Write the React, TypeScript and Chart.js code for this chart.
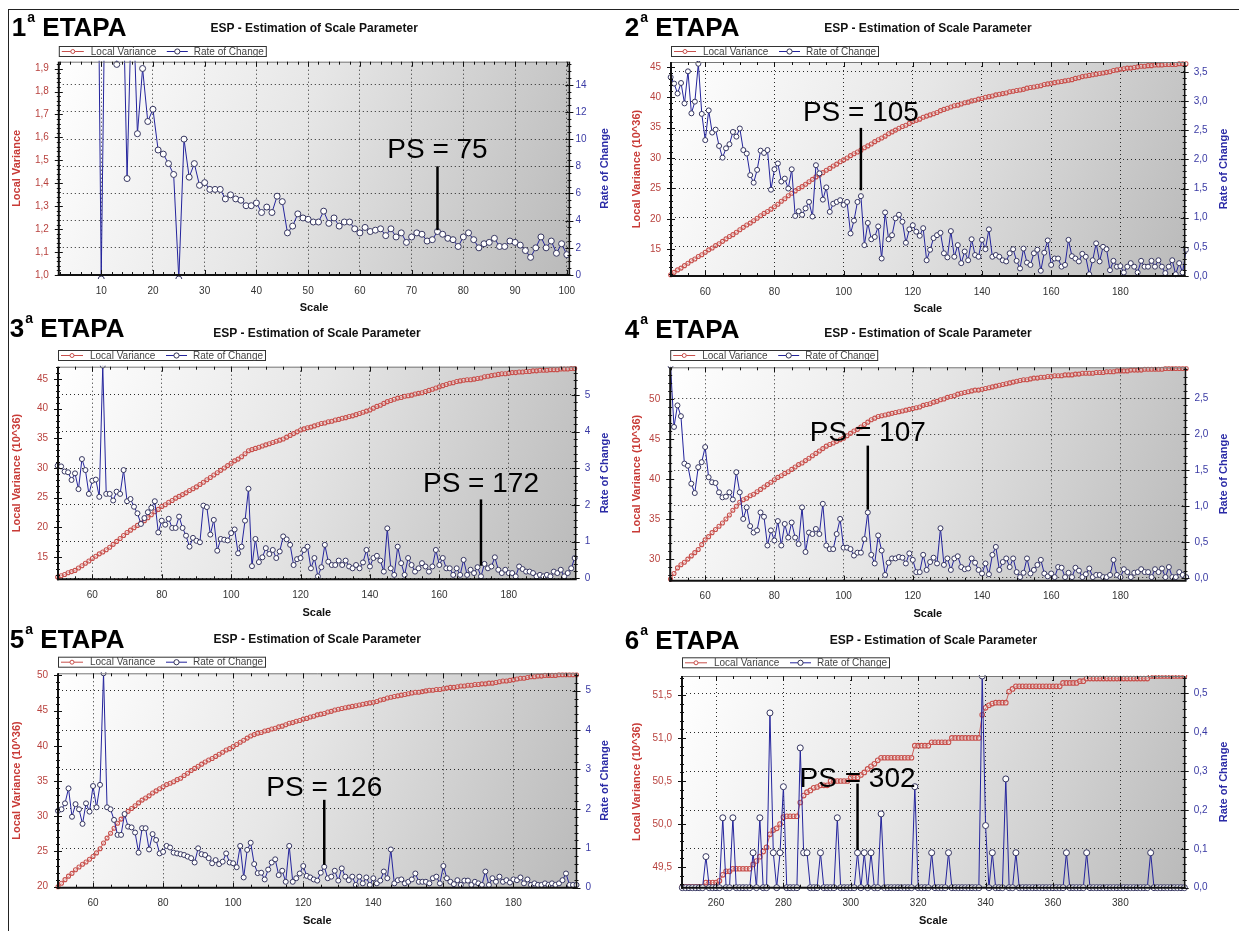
import React, { useEffect, useRef } from 'react';
import { Chart, registerables } from 'chart.js';

Chart.register(...registerables);

const FONT = '"Liberation Sans", Arial, Helvetica, sans-serif';

// ---------------- categories (scale steps) ----------------
const scaleSteps = (from: number, to: number) => {
  const out: number[] = [];
  for (let v = from; v <= to; v++) out.push(v);
  return out;
};

// ---------------- 1ª ETAPA ----------------
const p1Scale = scaleSteps(9, 100);
const p1LocalVariance: number[] = [];
const p1RateOfChange = [
  40, -0.3, 30, 25, 15.5, 25, 7.1, 22, 10.4, 15.2,
  11.3, 12.2, 9.2, 8.9, 8.2, 7.4, -0.3, 10.0, 7.2, 8.2,
  6.6, 6.8, 6.3, 6.3, 6.3, 5.6, 5.9, 5.6, 5.5, 5.1,
  5.1, 5.3, 4.6, 5.0, 4.6, 5.8, 5.4, 3.1, 3.6, 4.5,
  4.2, 4.1, 3.9, 3.9, 4.7, 3.8, 4.2, 3.6, 3.9, 3.9,
  3.4, 3.1, 3.5, 3.2, 3.3, 3.4, 2.9, 3.4, 2.8, 3.1,
  2.4, 2.8, 3.1, 3.0, 2.5, 2.6, 3.2, 3.0, 2.7, 2.6,
  2.1, 2.8, 3.1, 2.6, 2.0, 2.3, 2.4, 2.7, 2.1, 2.1,
  2.5, 2.4, 2.2, 1.8, 1.3, 2.0, 2.8, 2.0, 2.5, 1.6,
  2.3, 1.5,
];
const p1XTicks = [10, 20, 30, 40, 50, 60, 70, 80, 90, 100];
const p1LvTicks = [1.0, 1.1, 1.2, 1.3, 1.4, 1.5, 1.6, 1.7, 1.8, 1.9];
const p1RocTicks = [0, 2, 4, 6, 8, 10, 12, 14];

// ---------------- 2ª ETAPA ----------------
const p2Scale = scaleSteps(50, 199);
const p2LocalVariance = [
  10.8, 11.2, 11.6, 11.9, 12.3, 12.7, 13.1, 13.4, 13.8, 14.1,
  14.5, 14.9, 15.2, 15.6, 15.9, 16.3, 16.7, 17.1, 17.4, 17.8,
  18.2, 18.6, 19.0, 19.3, 19.7, 20.1, 20.5, 20.9, 21.2, 21.6,
  22.0, 22.4, 22.9, 23.3, 23.8, 24.2, 24.6, 25.0, 25.3, 25.7,
  26.1, 26.5, 26.9, 27.2, 27.6, 28.0, 28.3, 28.7, 29.0, 29.4,
  29.7, 30.0, 30.4, 30.7, 31.0, 31.3, 31.7, 32.0, 32.3, 32.7,
  33.0, 33.3, 33.6, 34.0, 34.3, 34.6, 34.9, 35.2, 35.4, 35.7,
  36.0, 36.2, 36.4, 36.7, 36.9, 37.1, 37.3, 37.5, 37.8, 38.0,
  38.2, 38.4, 38.6, 38.7, 38.9, 39.1, 39.2, 39.4, 39.5, 39.7,
  39.8, 40.0, 40.1, 40.2, 40.4, 40.5, 40.6, 40.7, 40.9, 41.0,
  41.1, 41.2, 41.3, 41.5, 41.6, 41.7, 41.8, 41.9, 42.1, 42.2,
  42.3, 42.4, 42.5, 42.6, 42.7, 42.8, 42.9, 43.1, 43.2, 43.4,
  43.5, 43.6, 43.7, 43.8, 43.9, 44.0, 44.1, 44.2, 44.4, 44.5,
  44.6, 44.7, 44.8, 44.8, 44.9, 45.0, 45.1, 45.1, 45.2, 45.2,
  45.3, 45.3, 45.3, 45.4, 45.4, 45.4, 45.4, 45.5, 45.5, 45.5,
];
const p2RateOfChange = [
  3.41, 3.30, 3.13, 3.31, 2.96, 3.51, 2.79, 2.99, 3.64, 2.78,
  2.33, 2.84, 2.46, 2.51, 2.23, 2.03, 2.19, 2.26, 2.47, 2.39,
  2.53, 2.16, 2.10, 1.73, 1.60, 1.82, 2.15, 2.11, 2.16, 1.48,
  1.83, 1.93, 1.62, 1.67, 1.50, 1.83, 1.03, 1.11, 1.05, 1.16,
  1.27, 1.02, 1.90, 1.76, 1.31, 1.52, 1.10, 1.24, 1.27, 1.30,
  1.22, 1.27, 0.73, 0.95, 1.27, 1.37, 0.53, 0.91, 0.63, 0.67,
  0.85, 0.30, 1.09, 0.63, 0.70, 0.99, 1.05, 0.93, 0.57, 0.80,
  0.87, 0.76, 0.69, 0.82, 0.27, 0.45, 0.65, 0.70, 0.74, 0.39,
  0.32, 0.77, 0.33, 0.53, 0.22, 0.42, 0.27, 0.63, 0.36, 0.33,
  0.62, 0.46, 0.80, 0.33, 0.36, 0.33, 0.27, 0.25, 0.39, 0.46,
  0.26, 0.13, 0.47, 0.23, 0.19, 0.39, 0.45, 0.09, 0.40, 0.61,
  0.19, 0.30, 0.30, 0.16, 0.19, 0.62, 0.34, 0.30, 0.25, 0.38,
  0.33, 0.03, 0.27, 0.56, 0.25, 0.50, 0.46, 0.10, 0.26, 0.16,
  0.17, 0.06, 0.16, 0.22, 0.16, 0.06, 0.26, 0.16, 0.16, 0.26,
  0.16, 0.27, 0.16, 0.05, 0.16, 0.27, 0.03, 0.22, 0.06, 0.45,
];
const p2XTicks = [60, 80, 100, 120, 140, 160, 180];
const p2LvTicks = [15, 20, 25, 30, 35, 40, 45];
const p2RocTicks = [0, 0.5, 1.0, 1.5, 2.0, 2.5, 3.0, 3.5];

// ---------------- 3ª ETAPA ----------------
const p3Scale = scaleSteps(50, 199);
const p3LocalVariance = [
  11.6, 11.8, 12.0, 12.3, 12.5, 12.7, 13.1, 13.5, 13.9, 14.3,
  14.7, 15.1, 15.5, 15.8, 16.2, 16.6, 17.1, 17.6, 18.1, 18.6,
  19.1, 19.5, 19.9, 20.3, 20.7, 21.1, 21.6, 22.1, 22.6, 23.0,
  23.5, 23.8, 24.2, 24.5, 24.9, 25.2, 25.5, 25.8, 26.2, 26.5,
  26.8, 27.2, 27.6, 28.0, 28.4, 28.8, 29.2, 29.6, 30.0, 30.4,
  30.8, 31.2, 31.5, 31.9, 32.4, 32.9, 33.1, 33.3, 33.5, 33.7,
  33.9, 34.1, 34.3, 34.5, 34.7, 34.9, 35.2, 35.5, 35.8, 36.1,
  36.4, 36.6, 36.8, 36.9, 37.1, 37.3, 37.5, 37.6, 37.8, 37.9,
  38.1, 38.2, 38.4, 38.5, 38.7, 38.8, 39.0, 39.2, 39.4, 39.6,
  39.8, 40.1, 40.4, 40.6, 40.9, 41.2, 41.4, 41.6, 41.8, 41.9,
  42.1, 42.2, 42.3, 42.5, 42.6, 42.7, 42.9, 43.1, 43.3, 43.5,
  43.7, 43.9, 44.1, 44.3, 44.4, 44.6, 44.7, 44.8, 44.9, 44.9,
  45.0, 45.1, 45.2, 45.4, 45.5, 45.6, 45.7, 45.8, 45.9, 45.9,
  46.0, 46.1, 46.1, 46.2, 46.2, 46.3, 46.3, 46.4, 46.4, 46.5,
  46.5, 46.5, 46.6, 46.6, 46.6, 46.7, 46.7, 46.7, 46.8, 46.8,
];
const p3RateOfChange = [
  3.07, 3.05, 2.91, 2.89, 2.68, 2.86, 2.43, 3.25, 2.95, 2.30,
  2.66, 2.69, 2.22, 5.80, 2.30, 2.30, 2.12, 2.36, 2.30, 2.95,
  2.10, 2.16, 1.95, 1.77, 1.48, 1.64, 1.80, 1.92, 2.10, 1.25,
  1.57, 1.46, 1.62, 1.37, 1.37, 1.68, 1.37, 1.16, 0.86, 1.10,
  1.02, 0.98, 1.98, 1.94, 1.19, 1.59, 0.75, 1.07, 1.05, 1.03,
  1.23, 1.33, 0.68, 0.86, 1.57, 2.44, 0.33, 1.07, 0.44, 0.57,
  0.82, 0.66, 0.77, 0.55, 0.73, 1.14, 1.06, 0.91, 0.36, 0.52,
  0.55, 0.77, 0.86, 0.27, 0.55, 0.05, 0.30, 0.91, 0.45, 0.36,
  0.36, 0.48, 0.36, 0.48, 0.32, 0.27, 0.36, 0.27, 0.43, 0.77,
  0.32, 0.55, 0.61, 0.48, 0.18, 1.36, 0.27, 0.09, 0.86, 0.41,
  0.09, 0.55, 0.36, 0.18, 0.27, 0.41, 0.32, 0.18, 0.32, 0.77,
  0.36, 0.55, 0.27, 0.27, 0.09, 0.27, 0.09, 0.50, 0.09, 0.23,
  0.14, 0.30, 0.05, 0.39, 0.27, 0.32, 0.57, 0.23, 0.14, 0.23,
  0.14, 0.14, 0.05, 0.32, 0.25, 0.18, 0.18, 0.14, 0.05, 0.09,
  0.05, 0.09, 0.05, 0.18, 0.14, 0.23, 0.05, 0.14, 0.27, 0.55,
];
const p3XTicks = [60, 80, 100, 120, 140, 160, 180];
const p3LvTicks = [15, 20, 25, 30, 35, 40, 45];
const p3RocTicks = [0, 1, 2, 3, 4, 5];

// ---------------- 4ª ETAPA ----------------
const p4Scale = scaleSteps(50, 199);
const p4LocalVariance = [
  27.5, 28.2, 28.9, 29.3, 29.6, 30.0, 30.4, 30.8, 31.2, 31.8,
  32.4, 32.8, 33.3, 33.7, 34.1, 34.5, 35.0, 35.5, 36.1, 36.6,
  37.1, 37.4, 37.6, 37.9, 38.1, 38.4, 38.7, 39.0, 39.3, 39.6,
  39.9, 40.2, 40.4, 40.7, 40.9, 41.2, 41.5, 41.8, 42.0, 42.3,
  42.6, 42.9, 43.2, 43.5, 43.8, 44.1, 44.3, 44.5, 44.7, 44.9,
  45.1, 45.4, 45.7, 46.0, 46.2, 46.5, 46.8, 47.1, 47.4, 47.6,
  47.8, 47.9, 48.0, 48.1, 48.2, 48.3, 48.4, 48.5, 48.6, 48.7,
  48.8, 48.9, 49.0, 49.2, 49.3, 49.4, 49.6, 49.7, 49.9, 50.0,
  50.2, 50.3, 50.4, 50.6, 50.7, 50.8, 50.9, 51.0, 51.1, 51.1,
  51.2, 51.3, 51.4, 51.5, 51.6, 51.7, 51.8, 51.9, 52.0, 52.1,
  52.2, 52.3, 52.4, 52.4, 52.5, 52.6, 52.6, 52.7, 52.7, 52.8,
  52.8, 52.9, 52.9, 52.9, 53.0, 53.0, 53.0, 53.1, 53.1, 53.2,
  53.2, 53.2, 53.2, 53.3, 53.3, 53.3, 53.4, 53.4, 53.4, 53.5,
  53.5, 53.5, 53.5, 53.6, 53.6, 53.6, 53.6, 53.7, 53.7, 53.7,
  53.7, 53.7, 53.7, 53.8, 53.8, 53.8, 53.8, 53.8, 53.8, 53.8,
];
const p4RateOfChange = [
  2.95, 2.10, 2.40, 2.25, 1.59, 1.56, 1.31, 1.18, 1.54, 1.61,
  1.82, 1.40, 1.33, 1.32, 1.19, 1.12, 1.13, 1.19, 1.09, 1.47,
  1.19, 0.82, 0.98, 0.72, 0.63, 0.66, 0.91, 0.85, 0.45, 0.66,
  0.52, 0.79, 0.45, 0.75, 0.56, 0.77, 0.56, 0.47, 0.98, 0.36,
  0.63, 0.61, 0.68, 0.61, 1.03, 0.45, 0.40, 0.40, 0.61, 0.82,
  0.42, 0.42, 0.40, 0.31, 0.35, 0.35, 0.54, 0.91, 0.32, 0.20,
  0.59, 0.38, 0.04, 0.21, 0.27, 0.27, 0.29, 0.28, 0.20, 0.34,
  0.25, 0.08, 0.08, 0.32, 0.11, 0.22, 0.28, 0.20, 0.69, 0.18,
  0.27, 0.11, 0.27, 0.30, 0.15, 0.12, 0.13, 0.27, 0.21, 0.11,
  0.06, 0.20, 0.05, 0.32, 0.43, 0.11, 0.22, 0.27, 0.15, 0.27,
  0.08, 0.01, 0.07, 0.27, 0.06, 0.11, 0.18, 0.25, 0.06, 0.02,
  0.06, 0.01, 0.15, 0.14, 0.01, 0.07, 0.01, 0.14, 0.10, 0.01,
  0.05, 0.13, 0.01, 0.04, 0.04, 0.01, 0.01, 0.04, 0.25, 0.04,
  0.01, 0.12, 0.08, 0.01, 0.07, 0.08, 0.12, 0.08, 0.08, 0.01,
  0.12, 0.08, 0.13, 0.01, 0.15, 0.01, 0.01, 0.08, 0.04, 0.01,
];
const p4XTicks = [60, 80, 100, 120, 140, 160, 180];
const p4LvTicks = [30, 35, 40, 45, 50];
const p4RocTicks = [0, 0.5, 1.0, 1.5, 2.0, 2.5];

// ---------------- 5ª ETAPA ----------------
const p5Scale = scaleSteps(50, 198);
const p5LocalVariance = [
  20.0, 20.5, 21.0, 21.5, 21.9, 22.4, 22.8, 23.2, 23.5, 23.9,
  24.3, 24.8, 25.4, 26.2, 26.9, 27.6, 28.3, 29.0, 29.6, 30.2,
  30.7, 31.1, 31.5, 31.9, 32.3, 32.6, 32.9, 33.3, 33.6, 33.9,
  34.2, 34.5, 34.7, 34.9, 35.2, 35.4, 35.8, 36.1, 36.5, 36.8,
  37.1, 37.4, 37.7, 38.0, 38.2, 38.5, 38.8, 39.1, 39.4, 39.6,
  39.9, 40.2, 40.5, 40.8, 41.1, 41.4, 41.6, 41.8, 41.9, 42.1,
  42.2, 42.4, 42.5, 42.7, 42.8, 43.0, 43.2, 43.3, 43.5, 43.6,
  43.8, 43.9, 44.1, 44.2, 44.4, 44.5, 44.6, 44.8, 44.9, 45.1,
  45.2, 45.3, 45.4, 45.5, 45.6, 45.7, 45.8, 45.9, 46.0, 46.1,
  46.2, 46.3, 46.5, 46.6, 46.8, 46.9, 47.0, 47.1, 47.2, 47.3,
  47.4, 47.5, 47.6, 47.6, 47.7, 47.8, 47.9, 47.9, 48.0, 48.0,
  48.1, 48.2, 48.3, 48.3, 48.4, 48.5, 48.5, 48.6, 48.6, 48.7,
  48.7, 48.8, 48.8, 48.9, 48.9, 49.0, 49.1, 49.2, 49.2, 49.3,
  49.4, 49.5, 49.6, 49.6, 49.7, 49.8, 49.8, 49.9, 49.9, 50.0,
  50.0, 50.0, 50.0, 50.1, 50.1, 50.1, 50.1, 50.1, 50.1,
];
const p5RateOfChange = [
  1.95, 1.99, 2.14, 2.52, 1.80, 2.12, 1.99, 1.62, 2.14, 1.93,
  2.58, 2.04, 2.61, 5.44, 2.04, 1.99, 1.72, 1.34, 1.34, 1.87,
  1.55, 1.53, 1.40, 0.89, 1.51, 1.51, 0.97, 1.36, 1.21, 0.87,
  0.91, 1.06, 1.02, 0.89, 0.87, 0.85, 0.83, 0.79, 0.75, 0.64,
  1.00, 0.85, 0.83, 0.75, 0.62, 0.70, 0.60, 0.66, 0.87, 0.64,
  0.62, 0.52, 1.06, 0.26, 0.96, 1.14, 0.60, 0.37, 0.38, 0.21,
  0.46, 0.64, 0.72, 0.32, 0.43, 0.15, 1.06, 0.15, 0.24, 0.36,
  0.55, 0.30, 0.26, 0.21, 0.18, 0.38, 0.53, 0.24, 0.28, 0.43,
  0.18, 0.49, 0.28, 0.19, 0.28, 0.07, 0.28, 0.11, 0.26, 0.07,
  0.24, 0.11, 0.18, 0.41, 0.24, 0.97, 0.11, 0.19, 0.21, 0.11,
  0.15, 0.21, 0.36, 0.15, 0.15, 0.15, 0.11, 0.24, 0.28, 0.11,
  0.55, 0.24, 0.15, 0.09, 0.19, 0.07, 0.18, 0.18, 0.07, 0.15,
  0.11, 0.07, 0.41, 0.07, 0.24, 0.15, 0.28, 0.15, 0.19, 0.13,
  0.21, 0.19, 0.26, 0.11, 0.21, 0.07, 0.11, 0.07, 0.07, 0.11,
  0.07, 0.11, 0.07, 0.11, 0.19, 0.36, 0.07, 0.07, 0.07,
];
const p5XTicks = [60, 80, 100, 120, 140, 160, 180];
const p5LvTicks = [20, 25, 30, 35, 40, 45, 50];
const p5RocTicks = [0, 1, 2, 3, 4, 5];

// ---------------- 6ª ETAPA ----------------
const p6Scale = scaleSteps(250, 399);
const p6LocalVariance = [
  49.27, 49.27, 49.27, 49.27, 49.27, 49.27, 49.27, 49.32, 49.32, 49.32,
  49.32, 49.34, 49.41, 49.45, 49.45, 49.48, 49.48, 49.48, 49.48, 49.48,
  49.48, 49.53, 49.57, 49.62, 49.68, 49.73, 49.88, 49.93, 49.95, 50.0,
  50.08, 50.09, 50.09, 50.09, 50.09, 50.25, 50.33, 50.37, 50.39, 50.42,
  50.43, 50.45, 50.45, 50.45, 50.5, 50.5, 50.5, 50.5, 50.5, 50.5,
  50.54, 50.54, 50.54, 50.57, 50.6, 50.64, 50.67, 50.7, 50.74, 50.77,
  50.77, 50.77, 50.77, 50.77, 50.77, 50.77, 50.77, 50.77, 50.77, 50.91,
  50.91, 50.91, 50.91, 50.91, 50.95, 50.95, 50.95, 50.95, 50.95, 50.95,
  51.0, 51.0, 51.0, 51.0, 51.0, 51.0, 51.0, 51.0, 51.0, 51.27,
  51.35, 51.38, 51.4, 51.41, 51.41, 51.41, 51.41, 51.54, 51.57, 51.6,
  51.6, 51.6, 51.6, 51.6, 51.6, 51.6, 51.6, 51.6, 51.6, 51.6,
  51.6, 51.6, 51.6, 51.64, 51.64, 51.64, 51.64, 51.64, 51.66, 51.66,
  51.69, 51.69, 51.69, 51.69, 51.69, 51.69, 51.69, 51.69, 51.69, 51.69,
  51.69, 51.69, 51.69, 51.69, 51.69, 51.69, 51.69, 51.69, 51.69, 51.72,
  51.72, 51.72, 51.72, 51.72, 51.72, 51.72, 51.72, 51.72, 51.72, 51.72,
];
const p6RateOfChange = [
  0, 0, 0, 0, 0, 0, 0, 0.08, 0, 0,
  0, 0, 0.18, 0, 0, 0.18, 0, 0, 0, 0,
  0, 0.09, 0, 0.18, 0, 0, 0.45, 0.09, 0, 0.09,
  0.26, 0, 0, 0, 0, 0.36, 0.09, 0.09, 0, 0,
  0, 0.09, 0, 0, 0, 0, 0.18, 0, 0, 0,
  0, 0, 0.09, 0, 0.09, 0, 0.09, 0, 0, 0.19,
  0, 0, 0, 0, 0, 0, 0, 0, 0, 0.26,
  0, 0, 0, 0, 0.09, 0, 0, 0, 0, 0.09,
  0, 0, 0, 0, 0, 0, 0, 0, 0, 0.545,
  0.16, 0, 0.09, 0, 0, 0, 0.28, 0, 0, 0.09,
  0, 0, 0, 0, 0, 0, 0, 0, 0, 0,
  0, 0, 0, 0, 0.09, 0, 0, 0, 0, 0,
  0.09, 0, 0, 0, 0, 0, 0, 0, 0, 0,
  0, 0, 0, 0, 0, 0, 0, 0, 0, 0.09,
  0, 0, 0, 0, 0, 0, 0, 0, 0, 0,
];
const p6XTicks = [260, 280, 300, 320, 340, 360, 380];
const p6LvTicks = [49.5, 50.0, 50.5, 51.0, 51.5];
const p6RocTicks = [0, 0.1, 0.2, 0.3, 0.4, 0.5];

// ---------------- text ----------------
const CHART_TITLE = 'ESP - Estimation of Scale Parameter';
const LV_LABEL = 'Local Variance';
const ROC_LABEL = 'Rate of Change';
const X_TITLE = 'Scale';

type PanelDef = {
  stage: string;
  box: { left: number; top: number; width: number; height: number };
  plot: { l: number; t: number; r: number; b: number };
  titleY: number;
  legendY: number;
  stageX: number;
  stageBaseline: number;
  scale: number[];
  lv: number[];
  roc: number[];
  xRange: [number, number];
  xTicks: number[];
  xMinor: number;
  yRange: [number, number];
  yTicks: number[];
  yMinor: number;
  yDec: number;
  yTitle: string;
  y1Range: [number, number];
  y1Ticks: number[];
  y1Minor: number;
  y1Dec: number;
  y1Pad: number;
  ps: number;
  psLine: [number, number];
  psText: number;
  rocRadius: number;
  lvRadius: number;
};

const panels: PanelDef[] = [
  {
    stage: '1', box: { left: 0, top: 0, width: 620, height: 320 },
    plot: { l: 58.8, t: 61.7, r: 569.4, b: 275 }, titleY: 28.3, legendY: 46,
    stageX: 11.8, stageBaseline: 36,
    scale: p1Scale, lv: p1LocalVariance, roc: p1RateOfChange,
    xRange: [1.8, 100.5], xTicks: p1XTicks, xMinor: 2,
    yRange: [1.0, 1.93], yTicks: p1LvTicks, yMinor: 0.02, yDec: 1, yTitle: LV_LABEL,
    y1Range: [0, 15.7], y1Ticks: p1RocTicks, y1Minor: 0.5, y1Dec: 0, y1Pad: 6,
    ps: 75, psLine: [3.3, 8.0], psText: 8.6, rocRadius: 3, lvRadius: 2,
  },
  {
    stage: '2', box: { left: 620, top: 0, width: 619, height: 320 },
    plot: { l: 51, t: 62, r: 564.7, b: 276 }, titleY: 28.3, legendY: 46,
    stageX: 624.7, stageBaseline: 36,
    scale: p2Scale, lv: p2LocalVariance, roc: p2RateOfChange,
    xRange: [50.1, 198.6], xTicks: p2XTicks, xMinor: 5,
    yRange: [10.6, 45.8], yTicks: p2LvTicks, yMinor: 1, yDec: 0, yTitle: LV_LABEL + ' (10^36)',
    y1Range: [0, 3.67], y1Ticks: p2RocTicks, y1Minor: 0.1, y1Dec: 1, y1Pad: 9,
    ps: 105, psLine: [1.47, 2.54], psText: 2.66, rocRadius: 2.5, lvRadius: 2,
  },
  {
    stage: '3', box: { left: 0, top: 305, width: 620, height: 320 },
    plot: { l: 58, t: 61.7, r: 575.7, b: 274.3 }, titleY: 28.3, legendY: 45,
    stageX: 9.8, stageBaseline: 337,
    scale: p3Scale, lv: p3LocalVariance, roc: p3RateOfChange,
    xRange: [50.1, 199.3], xTicks: p3XTicks, xMinor: 5,
    yRange: [11.2, 47.1], yTicks: p3LvTicks, yMinor: 1, yDec: 0, yTitle: LV_LABEL + ' (10^36)',
    y1Range: [-0.03, 5.77], y1Ticks: p3RocTicks, y1Minor: 0.2, y1Dec: 0, y1Pad: 9,
    ps: 172, psLine: [0.34, 2.15], psText: 2.36, rocRadius: 2.5, lvRadius: 2,
  },
  {
    stage: '4', box: { left: 620, top: 305, width: 619, height: 320 },
    plot: { l: 50.2, t: 62.3, r: 565.5, b: 275.7 }, titleY: 28.3, legendY: 45,
    stageX: 624.7, stageBaseline: 338,
    scale: p4Scale, lv: p4LocalVariance, roc: p4RateOfChange,
    xRange: [49.9, 198.8], xTicks: p4XTicks, xMinor: 5,
    yRange: [27.3, 53.95], yTicks: p4LvTicks, yMinor: 1, yDec: 0, yTitle: LV_LABEL + ' (10^36)',
    y1Range: [-0.04, 2.93], y1Ticks: p4RocTicks, y1Minor: 0.1, y1Dec: 1, y1Pad: 9,
    ps: 107, psLine: [0.95, 1.84], psText: 1.9, rocRadius: 2.5, lvRadius: 2,
  },
  {
    stage: '5', box: { left: 0, top: 611, width: 620, height: 320 },
    plot: { l: 58, t: 62.3, r: 576.5, b: 276.7 }, titleY: 29, legendY: 45.7,
    stageX: 9.8, stageBaseline: 648,
    scale: p5Scale, lv: p5LocalVariance, roc: p5RateOfChange,
    xRange: [50, 198], xTicks: p5XTicks, xMinor: 5,
    yRange: [19.86, 50.3], yTicks: p5LvTicks, yMinor: 1, yDec: 0, yTitle: LV_LABEL + ' (10^36)',
    y1Range: [0, 5.44], y1Ticks: p5RocTicks, y1Minor: 0.2, y1Dec: 0, y1Pad: 9,
    ps: 126, psLine: [0.58, 2.23], psText: 2.33, rocRadius: 2.5, lvRadius: 2,
  },
  {
    stage: '6', box: { left: 620, top: 611, width: 619, height: 320 },
    plot: { l: 62, t: 65, r: 564.7, b: 276.7 }, titleY: 29.7, legendY: 46.3,
    stageX: 624.7, stageBaseline: 649,
    scale: p6Scale, lv: p6LocalVariance, roc: p6RateOfChange,
    xRange: [249.9, 399.1], xTicks: p6XTicks, xMinor: 5,
    yRange: [49.26, 51.72], yTicks: p6LvTicks, yMinor: 0.1, yDec: 1, yTitle: LV_LABEL + ' (10^36)',
    y1Range: [0, 0.545], y1Ticks: p6RocTicks, y1Minor: 0.02, y1Dec: 1, y1Pad: 9,
    ps: 302, psLine: [0.097, 0.268], psText: 0.26, rocRadius: 3, lvRadius: 2.3,
  },
];

const RED = '#c8504c';
const RED_TEXT = '#b8423e';
const RED_TITLE = '#c83a36';
const BLUE = '#24249c';
const BLUE_TEXT = '#3a3aa4';
const BLUE_TITLE = '#2a2aa6';

const fmt = (v: number, d: number) => v.toFixed(d).replace('.', ',');

const stepsIn = (min: number, max: number, step: number) => {
  const out: number[] = [];
  const k0 = Math.ceil(min / step - 1e-6);
  const k1 = Math.floor(max / step + 1e-6);
  for (let k = k0; k <= k1; k++) out.push(+(k * step).toFixed(6));
  return out;
};
const isMajor = (v: number, ticks: number[], step: number) => ticks.some((t) => Math.abs(t - v) < step / 10);

function makeDecor(p: PanelDef) {
  return {
    id: 'decor',
    beforeDraw(chart: any) {
      const { ctx, chartArea: a } = chart;
      ctx.save();
      const g = ctx.createLinearGradient(a.left, a.top, a.right, a.bottom);
      g.addColorStop(0, '#ffffff');
      g.addColorStop(0.45, '#e6e6e6');
      g.addColorStop(1, '#bababa');
      ctx.fillStyle = g;
      ctx.fillRect(a.left, a.top, a.right - a.left, a.bottom - a.top);
      ctx.restore();
    },
    afterDraw(chart: any) {
      const { ctx, chartArea: a, scales } = chart;
      const sx = scales.x;
      const sy = scales.y;
      const sy1 = scales.y1;
      const line = (x1: number, y1: number, x2: number, y2: number) => {
        ctx.beginPath();
        ctx.moveTo(x1, y1);
        ctx.lineTo(x2, y2);
        ctx.stroke();
      };
      ctx.save();
      // frame
      ctx.strokeStyle = '#777';
      ctx.lineWidth = 1;
      line(a.left, a.top + 0.5, a.right, a.top + 0.5);
      ctx.strokeStyle = '#111';
      ctx.lineWidth = 1.5;
      line(a.right, a.top, a.right, a.bottom);
      ctx.lineWidth = 2;
      line(a.left - 1, a.bottom, a.right + 1, a.bottom);
      line(a.left, a.top, a.left, a.bottom + 1);

      // tick marks
      ctx.lineWidth = 1;
      ctx.strokeStyle = '#111';
      stepsIn(p.xRange[0], p.xRange[1], p.xMinor).forEach((v) => {
        const px = Math.round(sx.getPixelForValue(v)) + 0.5;
        const len = isMajor(v, p.xTicks, p.xMinor) ? 5 : 3;
        line(px, a.bottom, px, a.bottom - len);
        line(px, a.top, px, a.top + len);
      });
      stepsIn(p.yRange[0], p.yRange[1], p.yMinor).forEach((v) => {
        const py = Math.round(sy.getPixelForValue(v)) + 0.5;
        const len = isMajor(v, p.yTicks, p.yMinor) ? 4 : 2;
        line(a.left - len, py, a.left + len, py);
      });
      stepsIn(p.y1Range[0], p.y1Range[1], p.y1Minor).forEach((v) => {
        const py = Math.round(sy1.getPixelForValue(v)) + 0.5;
        const len = isMajor(v, p.y1Ticks, p.y1Minor) ? 4 : 2;
        line(a.right - len, py, a.right + len, py);
      });

      // right axis title (reads bottom-to-top)
      ctx.save();
      ctx.translate(p.box.width - 4 - 10.6, (a.top + a.bottom) / 2);
      ctx.rotate(-Math.PI / 2);
      ctx.font = `bold 11px ${FONT}`;
      ctx.fillStyle = BLUE_TITLE;
      ctx.textAlign = 'center';
      ctx.textBaseline = 'middle';
      ctx.fillText(ROC_LABEL, 0, 0);
      ctx.restore();

      // chart title
      ctx.font = `bold 12px ${FONT}`;
      ctx.fillStyle = '#111';
      ctx.textAlign = 'center';
      ctx.textBaseline = 'middle';
      ctx.fillText(CHART_TITLE, (a.left + a.right) / 2, p.titleY);

      // legend
      const lx = a.left;
      const ly = p.legendY;
      const lw = 208;
      const lh = 11;
      ctx.fillStyle = '#ffffff';
      ctx.fillRect(lx, ly, lw, lh);
      ctx.strokeStyle = '#333';
      ctx.lineWidth = 1;
      ctx.strokeRect(lx + 0.5, ly + 0.5, lw - 1, lh - 1);
      const my = ly + lh / 2;
      ctx.strokeStyle = RED;
      line(lx + 3, my, lx + 25, my);
      ctx.beginPath();
      ctx.arc(lx + 14, my, 2, 0, Math.PI * 2);
      ctx.fillStyle = '#fff';
      ctx.fill();
      ctx.stroke();
      ctx.strokeStyle = BLUE;
      line(lx + 108, my, lx + 129, my);
      ctx.beginPath();
      ctx.arc(lx + 118.5, my, 2.6, 0, Math.PI * 2);
      ctx.fillStyle = '#fff';
      ctx.fill();
      ctx.strokeStyle = '#333355';
      ctx.stroke();
      ctx.font = `10px ${FONT}`;
      ctx.fillStyle = '#444';
      ctx.textAlign = 'left';
      ctx.textBaseline = 'middle';
      ctx.fillText(chart.data.datasets[0].label, lx + 32, my + 0.5);
      ctx.fillText(chart.data.datasets[1].label, lx + 135, my + 0.5);

      // PS annotation
      const px = sx.getPixelForValue(p.ps);
      ctx.strokeStyle = '#000';
      ctx.lineWidth = 2.5;
      line(px, sy1.getPixelForValue(p.psLine[0]), px, sy1.getPixelForValue(p.psLine[1]));
      ctx.font = `28px ${FONT}`;
      ctx.fillStyle = '#000';
      ctx.textAlign = 'center';
      ctx.textBaseline = 'alphabetic';
      ctx.fillText(`PS = ${p.ps}`, px, sy1.getPixelForValue(p.psText));
      ctx.restore();
    },
  };
}

function buildConfig(p: PanelDef): any {
  const W = p.box.width;
  const H = p.box.height;
  const padL = 6;
  const padT = p.plot.t;
  const xAxisH = 44;
  const padB = H - p.plot.b - xAxisH;
  const padR = 4;
  const leftW = p.plot.l - padL;
  const rightW = W - padR - p.plot.r;

  const lvData = p.lv.map((v, i) => ({ x: p.scale[i], y: v }));
  const rocData = p.roc.map((v, i) => ({ x: p.scale[i], y: v }));

  return {
    type: 'line',
    data: {
      datasets: [
        {
          label: LV_LABEL,
          data: lvData,
          yAxisID: 'y',
          order: 1,
          borderColor: RED,
          borderWidth: 0.9,
          pointRadius: p.lvRadius,
          pointBorderWidth: 1.1,
          pointBorderColor: RED,
          pointBackgroundColor: 'rgba(255,255,255,0.35)',
          tension: 0,
          clip: { left: 4, right: 4, top: 1, bottom: 4 },
        },
        {
          label: ROC_LABEL,
          data: rocData,
          yAxisID: 'y1',
          order: 0,
          borderColor: BLUE,
          borderWidth: 1,
          pointRadius: p.rocRadius,
          pointBorderWidth: 1,
          pointBorderColor: '#363660',
          pointBackgroundColor: '#ffffff',
          tension: 0,
          clip: { left: 4, right: 4, top: 1, bottom: 4 },
        },
      ],
    },
    options: {
      animation: false,
      responsive: false,
      maintainAspectRatio: false,
      events: [],
      layout: { padding: { left: padL, top: padT, right: padR, bottom: padB } },
      plugins: {
        legend: { display: false },
        title: { display: false },
        tooltip: { enabled: false },
      },
      scales: {
        x: {
          type: 'linear',
          position: 'bottom',
          min: p.xRange[0],
          max: p.xRange[1],
          afterBuildTicks: (s: any) => {
            s.ticks = p.xTicks.map((v) => ({ value: v }));
          },
          afterFit: (s: any) => {
            s.height = xAxisH;
          },
          grid: { display: true, drawTicks: false, color: '#2a2a2a', lineWidth: 1 },
          border: { display: false, dash: [1, 3] },
          ticks: {
            autoSkip: false,
            maxRotation: 0,
            padding: 10,
            color: '#333',
            font: { family: FONT, size: 10 },
            callback: (v: any) => String(v),
          },
          title: {
            display: true,
            text: X_TITLE,
            color: '#111',
            font: { family: FONT, size: 11, weight: 'bold' },
            padding: { top: 0, bottom: 4 },
          },
        },
        y: {
          type: 'linear',
          position: 'left',
          min: p.yRange[0],
          max: p.yRange[1],
          afterBuildTicks: (s: any) => {
            s.ticks = p.yTicks.map((v) => ({ value: v }));
          },
          afterFit: (s: any) => {
            s.width = leftW;
          },
          grid: { display: false, drawTicks: false },
          border: { display: false },
          ticks: {
            autoSkip: false,
            padding: 10,
            color: RED_TEXT,
            font: { family: FONT, size: 10 },
            callback: (v: any) => fmt(Number(v), p.yDec),
          },
          title: {
            display: true,
            text: p.yTitle,
            color: RED_TITLE,
            font: { family: FONT, size: 11, weight: 'bold' },
            padding: { top: 4, bottom: 0 },
          },
        },
        y1: {
          type: 'linear',
          position: 'right',
          min: p.y1Range[0],
          max: p.y1Range[1],
          afterBuildTicks: (s: any) => {
            s.ticks = p.y1Ticks.map((v) => ({ value: v }));
          },
          afterFit: (s: any) => {
            s.width = rightW;
          },
          grid: { display: true, drawOnChartArea: true, drawTicks: false, color: '#2a2a2a', lineWidth: 1 },
          border: { display: false, dash: [1, 3] },
          ticks: {
            autoSkip: false,
            padding: p.y1Pad,
            color: BLUE_TEXT,
            font: { family: FONT, size: 10 },
            callback: (v: any) => fmt(Number(v), p.y1Dec),
          },
          title: { display: false },
        },
      },
    },
    plugins: [makeDecor(p)],
  };
}

function PanelChart({ p }: { p: PanelDef }) {
  const ref = useRef<HTMLCanvasElement | null>(null);
  useEffect(() => {
    if (!ref.current) return;
    const chart = new Chart(ref.current, buildConfig(p));
    return () => chart.destroy();
  }, [p]);
  return (
    <canvas
      ref={ref}
      width={p.box.width}
      height={p.box.height}
      style={{
        position: 'absolute',
        left: p.box.left,
        top: p.box.top,
        width: p.box.width,
        height: p.box.height,
      }}
    />
  );
}

function StageLabel({ p }: { p: PanelDef }) {
  return (
    <div
      style={{
        position: 'absolute',
        left: p.stageX,
        top: p.stageBaseline - 22,
        font: `bold 26px ${FONT}`,
        lineHeight: '26px',
        color: '#000',
        whiteSpace: 'nowrap',
      }}
    >
      {p.stage}
      <span style={{ fontSize: 14, position: 'relative', top: -14, marginLeft: 1 }}>a</span>
      {' ETAPA'}
    </div>
  );
}

export default function App() {
  return (
    <div
      style={{
        position: 'fixed',
        left: 0,
        top: 0,
        width: 1239,
        height: 931,
        background: '#ffffff',
        overflow: 'hidden',
      }}
    >
      <div
        style={{
          position: 'absolute',
          left: 8,
          top: 9,
          width: 1239 - 8,
          height: 931 - 9,
          borderTop: '1px solid #222',
          borderLeft: '1px solid #222',
          boxSizing: 'border-box',
        }}
      />
      {panels.map((p) => (
        <PanelChart key={p.stage} p={p} />
      ))}
      {panels.map((p) => (
        <StageLabel key={'s' + p.stage} p={p} />
      ))}
    </div>
  );
}
